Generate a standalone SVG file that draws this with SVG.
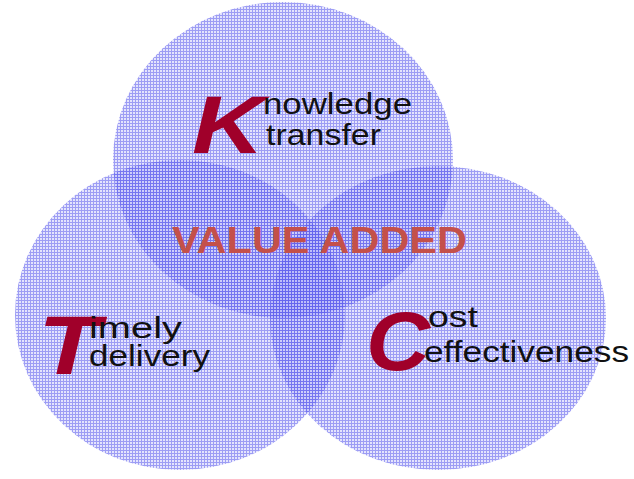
<svg xmlns="http://www.w3.org/2000/svg" width="634" height="479" viewBox="0 0 634 479">
<defs>
<pattern id="grid" width="3" height="3" patternUnits="userSpaceOnUse">
<rect width="3" height="3" fill="rgb(120,120,245)" fill-opacity="0.2"/>
<rect x="0" y="0" width="1" height="3" fill="rgb(85,85,235)" fill-opacity="0.5"/>
<rect x="1" y="0" width="2" height="1" fill="rgb(85,85,235)" fill-opacity="0.5"/>
</pattern>
</defs>
<style>
.big{font-family:"Liberation Sans",Arial,sans-serif;font-weight:bold;font-style:italic;fill:#a0002a;}
.lbl{font-family:"Liberation Sans",Arial,sans-serif;fill:#111;}
.va{font-family:"Liberation Sans",Arial,sans-serif;font-weight:bold;fill:#c4504a;}
</style>
<rect width="634" height="479" fill="#ffffff"/>
<g id="knowledge">
<ellipse cx="283" cy="160" rx="170" ry="158" fill="url(#grid)"/>
</g>
<g id="timely">
<ellipse cx="180" cy="315" rx="165" ry="155" fill="url(#grid)"/>
</g>
<g id="cost">
<ellipse cx="438" cy="318" rx="168" ry="152" fill="url(#grid)"/>
</g>
<g id="texts">
<text class="va" x="172" y="253" font-size="36" textLength="295" lengthAdjust="spacingAndGlyphs">VALUE ADDED</text>
<text class="big" x="192" y="153" font-size="82" textLength="72" lengthAdjust="spacingAndGlyphs">K</text>
<text class="lbl" x="263" y="114" font-size="29" textLength="149" lengthAdjust="spacingAndGlyphs">nowledge</text>
<text class="lbl" x="266" y="145" font-size="29" textLength="115" lengthAdjust="spacingAndGlyphs">transfer</text>
<text class="big" x="38" y="374" font-size="84" textLength="62" lengthAdjust="spacingAndGlyphs">T</text>
<text class="lbl" x="89" y="338" font-size="29" textLength="93" lengthAdjust="spacingAndGlyphs">imely</text>
<text class="lbl" x="89" y="366" font-size="29" textLength="121" lengthAdjust="spacingAndGlyphs">delivery</text>
<text class="big" x="366" y="370" font-size="84" textLength="64" lengthAdjust="spacingAndGlyphs">C</text>
<text class="lbl" x="428" y="327" font-size="29" textLength="50" lengthAdjust="spacingAndGlyphs">ost</text>
<text class="lbl" x="424" y="362" font-size="29" textLength="205" lengthAdjust="spacingAndGlyphs">effectiveness</text>
</g>
</svg>
